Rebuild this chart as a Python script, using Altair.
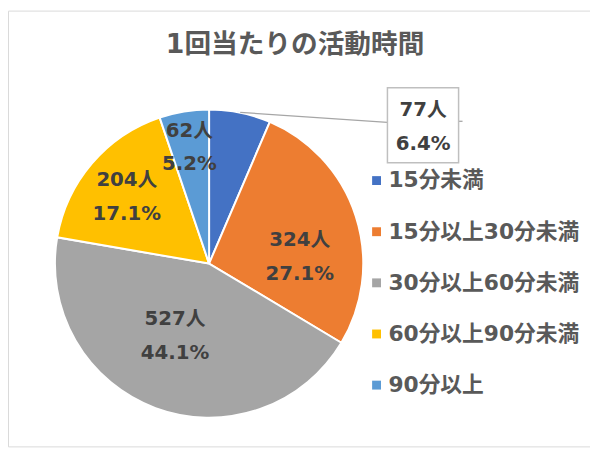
import math
import altair as alt
import pandas as pd

# chart values
cats = ["15分未満", "15分以上30分未満", "30分以上60分未満", "60分以上90分未満", "90分以上"]
counts = [77, 324, 527, 204, 62]
colors = ["#4472C4", "#ED7D31", "#A5A5A5", "#FFC000", "#5B9BD5"]
title_text = "1回当たりの活動時間"

total = sum(counts)
labels = [f"{c}人\n{c / total * 100:.1f}%" for c in counts]
df = pd.DataFrame({"idx": list(range(len(cats))), "cat": cats, "count": counts, "label": labels})

# label placement (radius in px, angle shift in degrees) - Excel "best fit" look
label_place = [(257, 45.8), (92, 13.9), (81, 4.8), (107, -1.6), (119, -0.3)]

FONT = "DejaVu Sans, Noto Sans CJK JP"
cx, cy, R = 203.5, 256, 156
LH = 34
theta_scale = alt.Scale(domain=[0, total], nice=False)

base = alt.Chart(df)

#pie slices, legend on the right
pie = base.mark_arc(outerRadius=R, stroke="white", strokeWidth=2).encode(
    theta=alt.Theta("count:Q", stack=True, scale=theta_scale),
    order=alt.Order("idx:Q"),
    color=alt.Color("cat:N", sort=cats,
                    scale=alt.Scale(domain=cats, range=colors),
                    legend=alt.Legend(title=None, orient="none", legendX=362, legendY=161,
                                      symbolType="square", symbolSize=81, symbolStrokeWidth=0,
                                      symbolOpacity=1, labelFont=FONT, labelFontSize=22,
                                      labelFontWeight="bold", labelColor="#595959",
                                      labelOffset=1, rowPadding=29.75, padding=0,
                                      labelLimit=300)),
    x=alt.value(cx),
    y=alt.value(cy),
)

#data labels, one layer per slice so each can sit where Excel put it
texts = []
for i, (r, shift) in enumerate(label_place):
    t = base.transform_window(
        cum="sum(count)", sort=[alt.SortField("idx")], frame=[None, 0]
    ).transform_calculate(
        mid="datum.cum - datum.count / 2"
    ).transform_filter(
        alt.datum.idx == i
    ).mark_text(
        radius=r, thetaOffset=math.radians(shift), font=FONT, fontSize=20,
        fontWeight="bold", color="#404040", lineBreak="\n", lineHeight=LH,
        align="center", baseline="middle", dy=-LH / 2
    ).encode(
        theta=alt.Theta("mid:Q", scale=theta_scale),
        text="label:N",
        x=alt.value(cx),
        y=alt.value(cy),
    )
    texts.append(t)

#callout box for the small slice + leader line
ann = alt.Chart(pd.DataFrame({"k": [0]}))
leader = ann.mark_rule(color="#A6A6A6", strokeWidth=1.3).encode(
    x=alt.value(235), y=alt.value(103), x2=alt.value(384), y2=alt.value(113))
stub = ann.mark_rule(color="#A6A6A6", strokeWidth=1.3).encode(
    x=alt.value(456), y=alt.value(112), x2=alt.value(460), y2=alt.value(112))
box = ann.mark_rect(fill="white", stroke="#BFBFBF", strokeWidth=1.5).encode(
    x=alt.value(384), x2=alt.value(456), y=alt.value(78), y2=alt.value(154))

title = ann.mark_text(font=FONT, fontSize=27, fontWeight="bold", color="#595959",
                      align="center", baseline="middle").encode(
    text=alt.value(title_text), x=alt.value(290.5), y=alt.value(34.5))

chart = alt.layer(pie, leader, stub, box, *texts, title).properties(
    width=589, height=441, padding=0,
    autosize=alt.AutoSizeParams(type="none"),
).configure_view(stroke="#D9D9D9", strokeWidth=1)

chart.save("out.html", embed_options={"renderer": "svg", "actions": False})
